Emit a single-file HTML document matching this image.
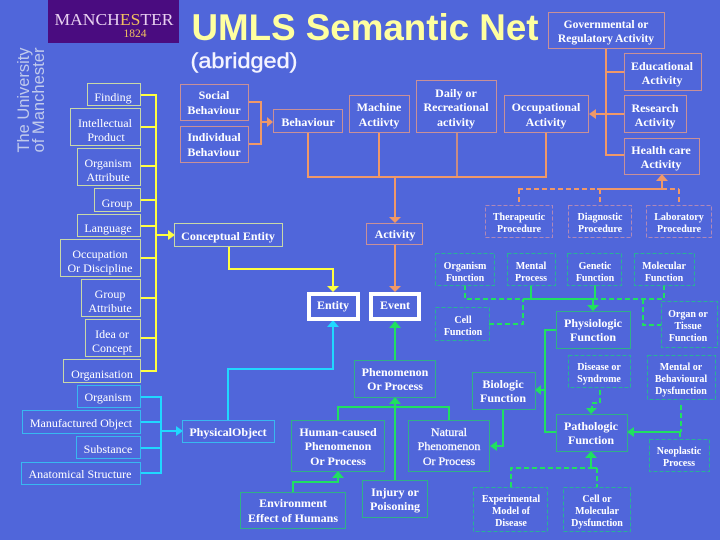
<!DOCTYPE html>
<html><head><meta charset="utf-8"><style>
html,body{margin:0;padding:0;background:#5066DA;width:720px;height:540px;overflow:hidden}
svg{display:block}
text{font-family:"Liberation Serif",serif;fill:#fff;text-anchor:middle;font-size:12px}
.b{font-weight:bold}
.s{font-size:10px;font-weight:bold}
.m{font-size:11.5px;font-weight:bold}
.y rect{fill:none;stroke:#C8D8A8;stroke-width:1}
.c rect{fill:none;stroke:#38B8F0;stroke-width:1}
.o rect{fill:none;stroke:#C89098;stroke-width:1}
.g rect{fill:none;stroke:#30B088;stroke-width:1}
.d rect{fill:none;stroke:#B088B8;stroke-width:1;stroke-dasharray:4 2}
.t rect{fill:none;stroke:#28B098;stroke-width:1;stroke-dasharray:4 2}
.ly{fill:none;stroke:#FFFF40;stroke-width:2}
.lc{fill:none;stroke:#20D8FF;stroke-width:2}
.lo{fill:none;stroke:#F09868;stroke-width:2}
.lg{fill:none;stroke:#20E060;stroke-width:2}
.lgd{fill:none;stroke:#20E060;stroke-width:2;stroke-dasharray:5 3}
.lod{fill:none;stroke:#F09868;stroke-width:2;stroke-dasharray:5 3}
</style></head><body>
<svg width="720" height="540" viewBox="0 0 720 540" xmlns="http://www.w3.org/2000/svg">
<rect width="720" height="540" fill="#5066DA"/>
<rect x="48" y="0" width="131" height="43" fill="#4A0C80"/>
<text x="114" y="25" style="font-size:17px;fill:#E8D0F0" textLength="119" lengthAdjust="spacingAndGlyphs">MANCH<tspan style="fill:#F0C060">ES</tspan>TER</text>
<text x="135" y="37" style="font-size:11.5px;fill:#F0C060">1824</text>
<g transform="translate(29,100) rotate(-90)"><text x="0" y="0" style="font-family:'Liberation Sans',sans-serif;font-size:17px;fill:#C0CAEC" textLength="105" lengthAdjust="spacingAndGlyphs">The University</text></g>
<g transform="translate(44,100) rotate(-90)"><text x="0" y="0" style="font-family:'Liberation Sans',sans-serif;font-size:17px;fill:#C0CAEC" textLength="105" lengthAdjust="spacingAndGlyphs">of Manchester</text></g>
<text x="365" y="40" style="font-family:'Liberation Sans',sans-serif;font-size:37px;font-weight:bold;fill:#FFFFA0" textLength="347" lengthAdjust="spacingAndGlyphs">UMLS Semantic Net</text>
<text x="244" y="68" style="font-family:'Liberation Sans',sans-serif;font-size:21px;fill:#F4F4FF;stroke:#F4F4FF;stroke-width:0.4" textLength="107" lengthAdjust="spacingAndGlyphs">(abridged)</text>

<!-- connectors -->
<path class="ly" d="M141 95H156M141 127H156M141 166H156M141 200H156M141 226H156M141 258H156M141 298H156M141 338H156M141 371H156M156 94V372M156 235H170M229 247V269H333V286"/>
<path d="M168 230L175 235L168 240ZM327 286H339L333 292Z" fill="#FFFF40"/>
<path class="lc" d="M141 397H161M141 422H161M141 448H161M141 473H161M161 396V474M161 431H176M228 420V369H333V326"/>
<path d="M176 426L183 431L176 436ZM327 327H339L333 320Z" fill="#20D8FF"/>
<path class="lo" d="M249 102H261V144H249M261 122H268M308 133V177H546V133M379 133V177M395 177V217M395 245V286M606 48V155H624M606 72H624M606 114H624M606 114H594"/>
<path d="M457 133V177" fill="none" stroke="#F09868" stroke-width="1.5"/>
<path d="M267 117L273 122L267 127ZM389 217H401L395 223ZM389 286H401L395 292ZM596 109V119L589 114ZM656 181L662 174L668 181Z" fill="#F09868"/>
<path class="lo" d="M597 189H662V181"/>
<path class="lod" d="M518 189H597M662 189H679M519 189V205M600 189V205M679 189V205"/>
<path class="lgd" d="M465 285V299H523M593 299H664M664 285V299M489 324H523V299M643 299V325H661M600 390V403H592V408M681 405V432M680 432V439"/>
<path class="lg" d="M523 299H593M531 285V299M595 285V299M593 299V305M556 330H545V432H556M545 390H540M503 409V446H496M681 432H633"/>
<path d="M587 305H599L593 311ZM586 408H597L591 414ZM541 385V395L535 390ZM497 441V451L490 446ZM634 427V437L627 432ZM585 458L591 451L597 458ZM389 328H401L395 321Z" fill="#20E060"/>
<path class="lg" d="M395 326V360M395 403V480M338 420V407H449V420M293 492V482H338V477"/>
<path d="M389 404H401L395 397ZM332 478H344L338 471Z" fill="#20E060"/>
<path class="lgd" d="M511 487V468H591M597 468V487"/>
<path class="lg" d="M591 458V468H597"/>

<!-- yellow -->
<g class="y">
<rect x="87.500" y="83.500" width="53" height="22"/><rect x="70.500" y="108.500" width="70" height="37"/><rect x="77.500" y="148.500" width="63" height="37"/><rect x="94.500" y="188.500" width="46" height="23"/><rect x="77.500" y="214.500" width="63" height="22"/><rect x="60.500" y="239.500" width="80" height="37"/><rect x="81.500" y="279.500" width="59" height="37"/><rect x="85.500" y="319.500" width="55" height="37"/><rect x="63.500" y="359.500" width="77" height="23"/><rect x="174.500" y="223.500" width="108" height="23"/>
</g>
<text x="113" y="101">Finding</text>
<text x="105" y="127">Intellectual</text><text x="106" y="141">Product</text>
<text x="108" y="167">Organism</text><text x="108" y="181">Attribute</text>
<text x="117" y="207">Group</text>
<text x="108" y="232">Language</text>
<text x="100" y="258">Occupation</text><text x="100" y="272">Or Discipline</text>
<text x="110" y="298">Group</text><text x="110" y="312">Attribute</text>
<text x="112" y="338">Idea or</text><text x="112" y="352">Concept</text>
<text x="102" y="378">Organisation</text>
<text x="228" y="240" class="b">Conceptual Entity</text>

<!-- cyan -->
<g class="c">
<rect x="77.500" y="385.500" width="63" height="22"/><rect x="22.500" y="410.500" width="118" height="23"/><rect x="76.500" y="436.500" width="64" height="22"/><rect x="21.500" y="462.500" width="119" height="22"/><rect x="182.500" y="420.500" width="92" height="22"/>
</g>
<text x="108" y="401">Organism</text>
<text x="81" y="427">Manufactured Object</text>
<text x="108" y="453">Substance</text>
<text x="80" y="478">Anatomical Structure</text>
<text x="228" y="436" class="b">PhysicalObject</text>

<!-- white -->
<rect x="309" y="294" width="49" height="25" fill="none" stroke="#fff" stroke-width="4"/>
<rect x="371" y="294" width="48" height="25" fill="none" stroke="#fff" stroke-width="4"/>
<text x="333" y="309" class="b">Entity</text>
<text x="395" y="309" class="b">Event</text>

<!-- orange -->
<g class="o">
<rect x="180.500" y="84.500" width="68" height="36"/><rect x="180.500" y="126.500" width="68" height="36"/><rect x="273.500" y="109.500" width="69" height="23"/><rect x="349.500" y="95.500" width="60" height="37"/><rect x="416.500" y="80.500" width="80" height="52"/><rect x="504.500" y="95.500" width="84" height="37"/><rect x="548.500" y="12.500" width="116" height="36"/><rect x="624.500" y="53.500" width="77" height="37"/><rect x="624.500" y="95.500" width="62" height="37"/><rect x="624.500" y="138.500" width="75" height="36"/><rect x="366.500" y="223.500" width="56" height="21"/>
</g>
<text x="214" y="99" class="b">Social</text><text x="214" y="114" class="b">Behaviour</text>
<text x="214" y="141" class="b">Individual</text><text x="214" y="156" class="b">Behaviour</text>
<text x="308" y="126" class="b">Behaviour</text>
<text x="379" y="111" class="b">Machine</text><text x="379" y="126" class="b">Actiivty</text>
<text x="456" y="97" class="b">Daily or</text><text x="456" y="111" class="b">Recreational</text><text x="456" y="126" class="b">activity</text>
<text x="546" y="111" class="b">Occupational</text><text x="546" y="126" class="b">Activity</text>
<text x="606" y="28" class="m">Governmental or</text><text x="606" y="42" class="m">Regulatory Activity</text>
<text x="662" y="70" class="b">Educational</text><text x="662" y="84" class="b">Activity</text>
<text x="655" y="112" class="b">Research</text><text x="655" y="126" class="b">Activity</text>
<text x="661" y="154" class="b">Health care</text><text x="661" y="168" class="b">Activity</text>
<text x="395" y="238" class="b">Activity</text>

<!-- dashed purple -->
<g class="d">
<rect x="485.500" y="205.500" width="67" height="32"/><rect x="568.500" y="205.500" width="63" height="32"/><rect x="646.500" y="205.500" width="65" height="32"/>
</g>
<text x="519" y="220" class="s">Therapeutic</text><text x="519" y="232" class="s">Procedure</text>
<text x="600" y="220" class="s">Diagnostic</text><text x="600" y="232" class="s">Procedure</text>
<text x="679" y="220" class="s">Laboratory</text><text x="679" y="232" class="s">Procedure</text>

<!-- dashed teal -->
<g class="t">
<rect x="435.500" y="253.500" width="59" height="32"/><rect x="507.500" y="253.500" width="48" height="32"/><rect x="567.500" y="253.500" width="54" height="32"/><rect x="634.500" y="253.500" width="60" height="32"/><rect x="435.500" y="307.500" width="54" height="33"/><rect x="661.500" y="301.500" width="56" height="46"/><rect x="568.500" y="355.500" width="62" height="32"/><rect x="647.500" y="355.500" width="68" height="44"/><rect x="649.500" y="439.500" width="60" height="32"/><rect x="473.500" y="487.500" width="74" height="44"/><rect x="563.500" y="487.500" width="67" height="44"/>
</g>
<text x="465" y="269" class="s">Organism</text><text x="465" y="281" class="s">Function</text>
<text x="531" y="269" class="s">Mental</text><text x="531" y="281" class="s">Process</text>
<text x="595" y="269" class="s">Genetic</text><text x="595" y="281" class="s">Function</text>
<text x="664" y="269" class="s">Molecular</text><text x="664" y="281" class="s">Function</text>
<text x="463" y="323" class="s">Cell</text><text x="463" y="335" class="s">Function</text>
<text x="688" y="317" class="s">Organ or</text><text x="688" y="329" class="s">Tissue</text><text x="688" y="341" class="s">Function</text>
<text x="599" y="370" class="s">Disease or</text><text x="599" y="382" class="s">Syndrome</text>
<text x="681" y="370" class="s">Mental or</text><text x="681" y="382" class="s">Behavioural</text><text x="681" y="394" class="s">Dysfunction</text>
<text x="679" y="454" class="s">Neoplastic</text><text x="679" y="466" class="s">Process</text>
<text x="511" y="502" class="s">Experimental</text><text x="511" y="514" class="s">Model of</text><text x="511" y="526" class="s">Disease</text>
<text x="597" y="502" class="s">Cell or</text><text x="597" y="514" class="s">Molecular</text><text x="597" y="526" class="s">Dysfunction</text>

<!-- green -->
<g class="g">
<rect x="556.500" y="311.500" width="74" height="37"/><rect x="472.500" y="372.500" width="63" height="37"/><rect x="556.500" y="414.500" width="71" height="37"/><rect x="354.500" y="360.500" width="81" height="37"/><rect x="291.500" y="420.500" width="93" height="51"/><rect x="408.500" y="420.500" width="81" height="51"/><rect x="362.500" y="480.500" width="65" height="37"/><rect x="240.500" y="492.500" width="105" height="36"/>
</g>
<text x="593" y="327" class="b">Physiologic</text><text x="593" y="341" class="b">Function</text>
<text x="503" y="388" class="b">Biologic</text><text x="503" y="402" class="b">Function</text>
<text x="591" y="430" class="b">Pathologic</text><text x="591" y="444" class="b">Function</text>
<text x="395" y="376" class="b">Phenomenon</text><text x="395" y="390" class="b">Or Process</text>
<text x="338" y="436" class="b">Human-caused</text><text x="338" y="450" class="b">Phenomenon</text><text x="338" y="465" class="b">Or Process</text>
<text x="449" y="436" style="stroke:#fff;stroke-width:0.25">Natural</text><text x="449" y="450" style="stroke:#fff;stroke-width:0.25">Phenomenon</text><text x="449" y="465" style="stroke:#fff;stroke-width:0.25">Or Process</text>
<text x="395" y="496" class="b">Injury or</text><text x="395" y="510" class="b">Poisoning</text>
<text x="293" y="507" class="b">Environment</text><text x="293" y="522" class="b">Effect of Humans</text>
</svg>
</body></html>
